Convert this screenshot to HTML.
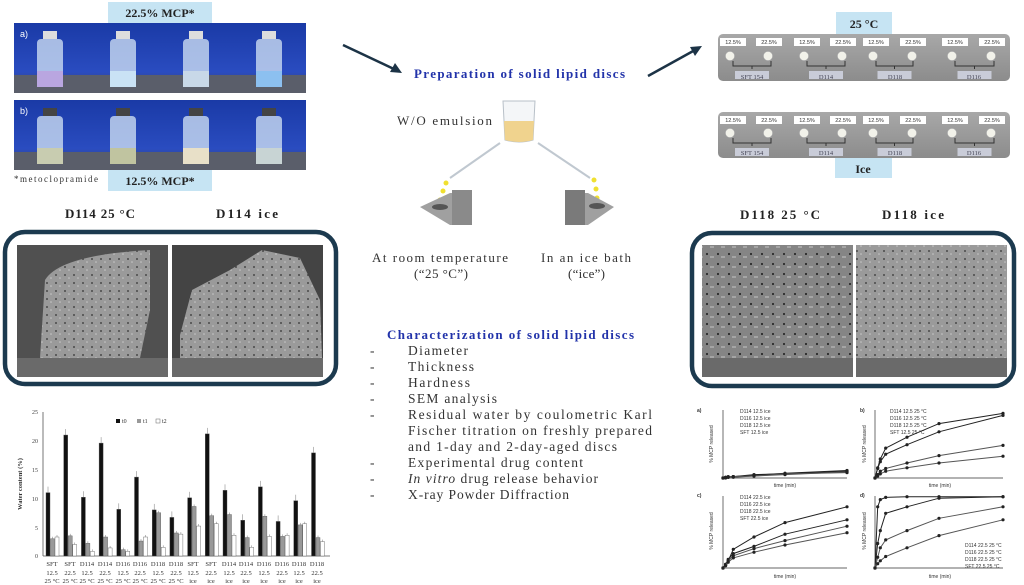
<!DOCTYPE html>
<html><head><meta charset="utf-8">
<style>
html,body{margin:0;padding:0;background:#fff;}
svg{display:block;}
.sr{font-family:"Liberation Serif",serif;}
</style></head>
<body>
<svg id="s" width="1024" height="585" viewBox="0 0 1024 585" xmlns="http://www.w3.org/2000/svg" class="sr">
<defs>
<linearGradient id="blue" x1="0" y1="0" x2="0" y2="1"><stop offset="0" stop-color="#1a3aa6"/><stop offset="0.7" stop-color="#2a4cc0"/><stop offset="1" stop-color="#445"/></linearGradient>
<linearGradient id="plate" x1="0" y1="0" x2="0" y2="1"><stop offset="0" stop-color="#a8a8a8"/><stop offset="1" stop-color="#8c8c8c"/></linearGradient>
<pattern id="dots" width="9" height="8" patternUnits="userSpaceOnUse"><rect width="9" height="8" fill="#9a9a9a"/><circle cx="2" cy="3" r="1" fill="#4a4a4a"/><circle cx="6" cy="6" r="0.8" fill="#c8c8c8"/></pattern>
<pattern id="dots2" width="11" height="10" patternUnits="userSpaceOnUse"><rect width="11" height="10" fill="#858585"/><circle cx="3" cy="4" r="1.1" fill="#2a2a2a"/><rect x="6" y="6" width="4" height="2" fill="#a5a5a5"/></pattern>
</defs>

<!-- Top-left photos -->
<rect x="108" y="2" width="104" height="21" fill="#c6e4f3"/>
<text x="160" y="17" text-anchor="middle" font-size="12" font-weight="bold" fill="#222">22.5% MCP*</text>
<rect x="14" y="23" width="292" height="70" fill="url(#blue)"/>
<rect x="14" y="100" width="292" height="70" fill="url(#blue)"/>
<g id="vials"></g>
<text x="20" y="37" font-size="9" fill="#fff" font-family="Liberation Sans,sans-serif">a)</text>
<text x="20" y="114" font-size="9" fill="#fff" font-family="Liberation Sans,sans-serif">b)</text>
<text x="14" y="182" font-size="9" fill="#333" textLength="84">*metoclopramide</text>
<rect x="108" y="170" width="104" height="21" fill="#c6e4f3"/>
<text x="160" y="185" text-anchor="middle" font-size="12" font-weight="bold" fill="#222">12.5% MCP*</text>

<!-- arrows -->
<line x1="343" y1="45" x2="396" y2="70" stroke="#1c3346" stroke-width="2.5"/>
<polygon points="402,73 390,72 395,63" fill="#1c3346"/>
<line x1="648" y1="76" x2="695" y2="50" stroke="#1c3346" stroke-width="2.5"/>
<polygon points="702,46 695,56 690,47" fill="#1c3346"/>

<text x="414" y="78" font-size="13" font-weight="bold" fill="#2233aa" textLength="211">Preparation of solid lipid discs</text>
<text x="397" y="125" font-size="13" fill="#333" textLength="95">W/O emulsion</text>
<!-- beaker -->
<path d="M503 101 L535 101 L533 140 Q519 144 505 140 Z" fill="#f4f6f8" stroke="#b8c0c8" stroke-width="1"/>
<path d="M504 121 L534 121 L533 140 Q519 144 505 140 Z" fill="#f0d38e"/>
<line x1="500" y1="143" x2="450" y2="178" stroke="#c0c8d0" stroke-width="2"/>
<line x1="538" y1="143" x2="590" y2="178" stroke="#c0c8d0" stroke-width="2"/>
<circle cx="446" cy="183" r="2.5" fill="#f0e030"/><circle cx="443" cy="191" r="2.5" fill="#f0e030"/><circle cx="440" cy="200" r="2.5" fill="#f0e030"/>
<circle cx="594" cy="180" r="2.5" fill="#f0e030"/><circle cx="596" cy="189" r="2.5" fill="#f0e030"/><circle cx="597" cy="198" r="2.5" fill="#f0e030"/>
<polygon points="420,207 450,193 472,193 472,225 450,225" fill="#a0a0a0"/>
<rect x="452" y="190" width="20" height="35" fill="#8a8a8a"/>
<ellipse cx="440" cy="207" rx="8" ry="3" fill="#555"/>
<polygon points="565,193 588,193 614,207 588,225 565,225" fill="#a0a0a0"/>
<rect x="565" y="190" width="20" height="35" fill="#7a7a7a"/>
<ellipse cx="597" cy="206" rx="8" ry="3" fill="#555"/>
<text x="372" y="262" font-size="13" fill="#333" textLength="136">At room temperature</text>
<text x="414" y="278" font-size="13" fill="#333" textLength="54">(“25 °C”)</text>
<text x="541" y="262" font-size="13" fill="#333" textLength="90">In an ice bath</text>
<text x="568" y="278" font-size="13" fill="#333" textLength="37">(“ice”)</text>

<!-- Characterization -->
<text x="387" y="339" font-size="13" font-weight="bold" fill="#2233aa" textLength="247">Characterization of solid lipid discs</text>
<g font-size="13.5" fill="#333">
<text x="370" y="355">-</text><text x="408" y="355" textLength="60">Diameter</text>
<text x="370" y="371">-</text><text x="408" y="371" textLength="66">Thickness</text>
<text x="370" y="387">-</text><text x="408" y="387" textLength="62">Hardness</text>
<text x="370" y="403">-</text><text x="408" y="403" textLength="89">SEM analysis</text>
<text x="370" y="419">-</text><text x="408" y="419" textLength="244">Residual water by coulometric Karl</text>
<text x="408" y="435" textLength="244">Fischer titration on freshly prepared</text>
<text x="408" y="451" textLength="209">and 1-day and 2-day-aged discs</text>
<text x="370" y="467">-</text><text x="408" y="467" textLength="175">Experimental drug content</text>
<text x="370" y="483">-</text><text x="408" y="483" textLength="190"><tspan font-style="italic">In vitro</tspan> drug release behavior</text>
<text x="370" y="499">-</text><text x="408" y="499" textLength="161">X-ray Powder Diffraction</text>
</g>

<!-- Right plates -->
<rect x="836" y="12" width="56" height="22" fill="#c6e4f3"/>
<text x="864" y="28" text-anchor="middle" font-size="12" font-weight="bold" fill="#222">25 °C</text>
<rect x="718" y="34" width="292" height="47" rx="5" fill="url(#plate)"/>
<rect x="718" y="112" width="292" height="46" rx="5" fill="url(#plate)"/>
<rect x="835" y="158" width="57" height="20" fill="#c6e4f3"/>
<text x="863" y="173" text-anchor="middle" font-size="12" font-weight="bold" fill="#222">Ice</text>
<g id="plates"></g>
<g font-size="5.5" fill="#333" font-family="Liberation Sans,sans-serif" text-anchor="middle">
<text x="733" y="44">12.5%</text><text x="769" y="44">22.5%</text><text x="807" y="44">12.5%</text><text x="843" y="44">22.5%</text><text x="876" y="44">12.5%</text><text x="913" y="44">22.5%</text><text x="955" y="44">12.5%</text><text x="992" y="44">22.5%</text>
<text x="733" y="122">12.5%</text><text x="769" y="122">22.5%</text><text x="807" y="122">12.5%</text><text x="843" y="122">22.5%</text><text x="876" y="122">12.5%</text><text x="913" y="122">22.5%</text><text x="955" y="122">12.5%</text><text x="992" y="122">22.5%</text>
</g>
<g font-size="6.5" fill="#445" text-anchor="middle">
<text x="752" y="79">SFT 154</text><text x="826" y="79">D114</text><text x="895" y="79">D118</text><text x="974" y="79">D116</text>
<text x="752" y="155">SFT 154</text><text x="826" y="155">D114</text><text x="895" y="155">D118</text><text x="974" y="155">D116</text>
</g>

<!-- SEM left -->
<text x="65" y="218" font-size="13" font-weight="bold" fill="#222" textLength="70">D114 25 °C</text>
<text x="216" y="218" font-size="13" font-weight="bold" fill="#222" textLength="62">D114 ice</text>
<rect x="5" y="232" width="331" height="152" rx="20" fill="#fff" stroke="#1c3a4f" stroke-width="4.5"/>
<rect x="17" y="245" width="151" height="132" fill="#505050"/>
<path d="M40 358 L45 280 Q60 255 150 250 L150 310 L140 358 Z" fill="url(#dots)"/>
<rect x="172" y="245" width="151" height="132" fill="#444"/>
<path d="M180 335 L192 290 L230 270 L262 250 L300 258 L320 300 L322 358 L180 358 Z" fill="url(#dots)"/>
<rect x="17" y="358" width="151" height="19" fill="#6a6a6a"/><rect x="172" y="358" width="151" height="19" fill="#6a6a6a"/>

<!-- SEM right -->
<text x="740" y="219" font-size="13" font-weight="bold" fill="#222" textLength="80">D118 25 °C</text>
<text x="882" y="219" font-size="13" font-weight="bold" fill="#222" textLength="62">D118 ice</text>
<rect x="692" y="233" width="322" height="153" rx="20" fill="#fff" stroke="#1c3a4f" stroke-width="4.5"/>
<rect x="702" y="245" width="151" height="132" fill="url(#dots2)"/>
<rect x="856" y="245" width="151" height="132" fill="url(#dots)"/>
<rect x="702" y="358" width="151" height="19" fill="#6a6a6a"/><rect x="856" y="358" width="151" height="19" fill="#6a6a6a"/>

<!-- Bar chart -->
<line x1="43" y1="412" x2="43" y2="556" stroke="#555" stroke-width="0.8"/>
<line x1="43" y1="556" x2="330" y2="556" stroke="#555" stroke-width="0.8"/>
<g font-size="6" fill="#444" text-anchor="end">
<text x="38" y="414">25</text><text x="38" y="443">20</text><text x="38" y="472">15</text><text x="38" y="501">10</text><text x="38" y="530">5</text><text x="38" y="558">0</text>
</g>
<text transform="translate(22,484) rotate(-90)" text-anchor="middle" font-size="6.5" font-weight="bold" fill="#333">Water content (%)</text>
<rect x="116" y="419" width="4" height="4" fill="#111"/><text x="122" y="423" font-size="6" fill="#333">t0</text>
<rect x="137" y="419" width="4" height="4" fill="#999"/><text x="143" y="423" font-size="6" fill="#333">t1</text>
<rect x="156" y="419" width="4" height="4" fill="#fff" stroke="#666" stroke-width="0.5"/><text x="162" y="423" font-size="6" fill="#333">t2</text>
<g id="bars"></g>
<g font-size="6.5" fill="#333" text-anchor="middle">
<text x="52" y="566">SFT</text><text x="52" y="575">12.5</text><text x="52" y="583">25 °C</text>
<text x="70" y="566">SFT</text><text x="70" y="575">22.5</text><text x="70" y="583">25 °C</text>
<text x="87" y="566">D114</text><text x="87" y="575">12.5</text><text x="87" y="583">25 °C</text>
<text x="105" y="566">D114</text><text x="105" y="575">22.5</text><text x="105" y="583">25 °C</text>
<text x="123" y="566">D116</text><text x="123" y="575">12.5</text><text x="123" y="583">25 °C</text>
<text x="140" y="566">D116</text><text x="140" y="575">22.5</text><text x="140" y="583">25 °C</text>
<text x="158" y="566">D118</text><text x="158" y="575">12.5</text><text x="158" y="583">25 °C</text>
<text x="176" y="566">D118</text><text x="176" y="575">22.5</text><text x="176" y="583">25 °C</text>
<text x="193" y="566">SFT</text><text x="193" y="575">12.5</text><text x="193" y="583">ice</text>
<text x="211" y="566">SFT</text><text x="211" y="575">22.5</text><text x="211" y="583">ice</text>
<text x="229" y="566">D114</text><text x="229" y="575">12.5</text><text x="229" y="583">ice</text>
<text x="246" y="566">D114</text><text x="246" y="575">22.5</text><text x="246" y="583">ice</text>
<text x="264" y="566">D116</text><text x="264" y="575">12.5</text><text x="264" y="583">ice</text>
<text x="282" y="566">D116</text><text x="282" y="575">22.5</text><text x="282" y="583">ice</text>
<text x="299" y="566">D118</text><text x="299" y="575">12.5</text><text x="299" y="583">ice</text>
<text x="317" y="566">D118</text><text x="317" y="575">22.5</text><text x="317" y="583">ice</text>
</g>

<!-- Line charts -->
<g id="lines"></g>
<g font-size="5" fill="#333" font-family="Liberation Sans,sans-serif">
<text x="697" y="412" font-weight="bold">a)</text><text x="860" y="412" font-weight="bold">b)</text>
<text x="697" y="497" font-weight="bold">c)</text><text x="860" y="497" font-weight="bold">d)</text>
<text x="785" y="487" text-anchor="middle">time (min)</text><text x="940" y="487" text-anchor="middle">time (min)</text>
<text x="785" y="578" text-anchor="middle">time (min)</text><text x="940" y="578" text-anchor="middle">time (min)</text>
<text transform="translate(713,444) rotate(-90)" text-anchor="middle">% MCP released</text>
<text transform="translate(866,444) rotate(-90)" text-anchor="middle">% MCP released</text>
<text transform="translate(713,531) rotate(-90)" text-anchor="middle">% MCP released</text>
<text transform="translate(866,531) rotate(-90)" text-anchor="middle">% MCP released</text>
<text x="740" y="413">D114 12.5 ice</text><text x="740" y="420">D116 12.5 ice</text><text x="740" y="427">D118 12.5 ice</text><text x="740" y="434">SFT 12.5 ice</text>
<text x="890" y="413">D114 12.5 25 °C</text><text x="890" y="420">D116 12.5 25 °C</text><text x="890" y="427">D118 12.5 25 °C</text><text x="890" y="434">SFT 12.5 25 °C</text>
<text x="740" y="499">D114 22.5 ice</text><text x="740" y="506">D116 22.5 ice</text><text x="740" y="513">D118 22.5 ice</text><text x="740" y="520">SFT 22.5 ice</text>
<text x="965" y="547">D114 22.5 25 °C</text><text x="965" y="554">D116 22.5 25 °C</text><text x="965" y="561">D118 22.5 25 °C</text><text x="965" y="568">SFT 22.5 25 °C</text>
</g>
</svg>
<script>
(function(){
var NS="http://www.w3.org/2000/svg";
function el(p,t,a){var e=document.createElementNS(NS,t);for(var k in a)e.setAttribute(k,a[k]);p.appendChild(e);return e;}
var v=document.getElementById('vials');
var liq=[["#b9a6e0","#c9e2f5","#c8d8e8","#8cc0f0"],["#c8ccb0","#c0c4a0","#e8e0c8","#c8d4d4"]];
[23,100].forEach(function(y0,r){
 el(v,'rect',{x:14,y:y0+52,width:292,height:18,fill:'#5a5e6a'});
 for(var i=0;i<4;i++){var cx=14+36+i*73;
  el(v,'rect',{x:cx-7,y:y0+8,width:14,height:8,fill:r?'#444':'#ddd'});
  el(v,'rect',{x:cx-13,y:y0+16,width:26,height:48,rx:4,fill:'#d6e6f6','fill-opacity':0.75});
  el(v,'rect',{x:cx-13,y:y0+48,width:26,height:16,fill:liq[r][i]});
 }
});
var p=document.getElementById('plates');
[[34,56,66],[112,133,143]].forEach(function(a){
 var lx=[720,756,794,830,863,900,942,979];
 lx.forEach(function(x,j){el(p,'rect',{x:x,y:a[0]+4,width:26,height:8,fill:'#fff'});el(p,'circle',{cx:x+10+(j%2?2:0),cy:a[1],r:4.5,fill:'#f2f2ea',stroke:'#bbb','stroke-width':0.5});});
 [[733,771],[807,845],[876,913],[955,994]].forEach(function(b){
  el(p,'path',{d:'M'+b[0]+' '+(a[1]+5)+' L'+b[0]+' '+a[2]+' L'+b[1]+' '+a[2]+' L'+b[1]+' '+(a[1]+5)+' M'+((b[0]+b[1])/2)+' '+a[2]+' v3',stroke:'#333',fill:'none','stroke-width':1});
  el(p,'rect',{x:(b[0]+b[1])/2-17,y:a[2]+5,width:34,height:8,fill:'#c9ccd8'});
 });
});
var g=document.getElementById('bars');
var t0=[11,21,10.2,19.6,8.1,13.7,8,6.7,10.1,21.2,11.4,6.2,12,6,9.6,17.9];
var t1=[3,3.5,2.2,3.3,1.1,2.6,7.5,4,8.6,7,7.2,3.2,6.9,3.4,5.4,3.2];
var t2=[3.3,2,0.8,1.4,0.8,3.3,1.5,3.8,5.2,5.6,3.6,1.5,3.4,3.6,5.6,2.5];
var s=5.76,y0=556;
for(var i=0;i<16;i++){var x=46+i*17.7;
 [[t0,'#111'],[t1,'#999'],[t2,'#fff']].forEach(function(d,k){var h=d[0][i]*s;
  el(g,'rect',{x:x+k*4.5,y:y0-h,width:4,height:h,fill:d[1],stroke:'#555','stroke-width':0.4});
  el(g,'line',{x1:x+k*4.5+2,y1:y0-h,x2:x+k*4.5+2,y2:y0-h-(k?2:6),stroke:'#777','stroke-width':0.5});
 });
}
var L=document.getElementById('lines');
var T=[0,5,10,20,60,120,240];
var panels=[
 [723,847,410,478,[[0,1,1,2,4,7,11],[0,1,2,2,5,6,10],[0,0,1,2,3,5,9],[0,1,1,1,3,6,8]]],
 [875,1003,410,478,[[0,15,28,44,60,80,95],[0,14,24,35,49,68,92],[0,5,10,14,22,33,48],[0,3,6,10,15,22,32]]],
 [723,847,496,568,[[0,5,10,26,43,63,85],[0,5,12,20,30,47,67],[0,4,10,17,27,38,58],[0,3,8,14,22,32,49]]],
 [875,1003,496,568,[[0,85,95,98,99,99,99],[0,34,52,76,85,97,99],[0,15,28,39,52,69,85],[0,6,10,16,28,45,67]]]
];
panels.forEach(function(P){
 el(L,'path',{d:'M'+P[0]+' '+P[2]+' V'+P[3]+' H'+P[1],stroke:'#333',fill:'none','stroke-width':0.7});
 P[4].forEach(function(d,k){var pts=d.map(function(v,j){return (P[0]+T[j]/240*(P[1]-P[0])).toFixed(1)+','+(P[3]-v/100*(P[3]-P[2])).toFixed(1);});
  el(L,'polyline',{points:pts.join(' '),fill:'none',stroke:k<2?'#222':'#555','stroke-width':1});
  pts.forEach(function(q){var c=q.split(',');el(L,'circle',{cx:c[0],cy:c[1],r:1.6,fill:'#222'});});
 });
});
})();
</script>
</body></html>
